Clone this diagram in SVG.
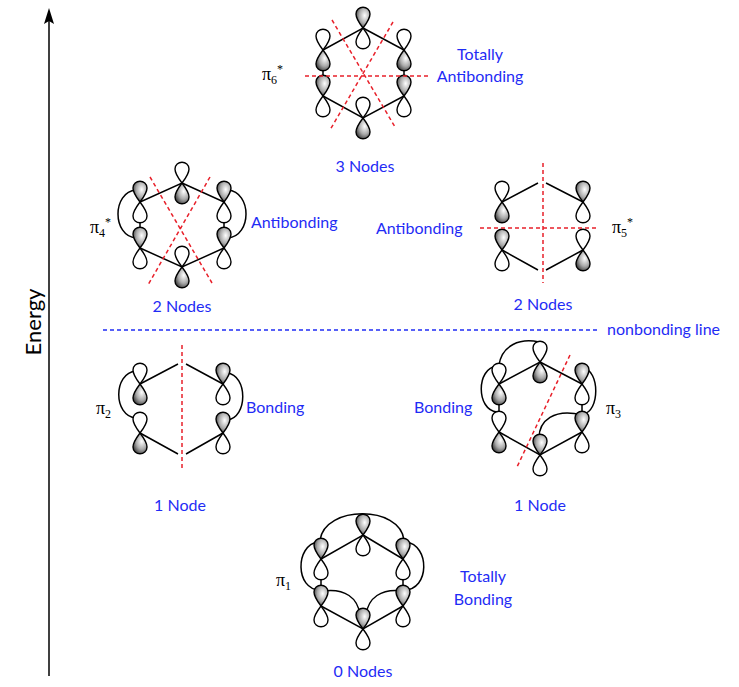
<svg xmlns="http://www.w3.org/2000/svg" xmlns:xlink="http://www.w3.org/1999/xlink" width="739" height="687" viewBox="0 0 739 687">
<style>
.b{stroke:#000;stroke-width:1.5;fill:none}
.n{stroke:#e8202a;stroke-width:1.5;stroke-dasharray:4,3;fill:none}
.lo{stroke:#000;stroke-width:1.4}
.t{font-family:"Lato","Open Sans","Liberation Sans",sans-serif;font-size:16px;fill:#1f2cf5}
.p{font-family:"Liberation Serif",serif;font-size:18px;fill:#000}
.s{font-size:12px}
</style>
<defs>
<radialGradient id="g" cx="0.62" cy="0.4" r="0.7">
<stop offset="0" stop-color="#fff"/><stop offset="0.55" stop-color="#aaa"/><stop offset="1" stop-color="#333"/>
</radialGradient>
<path id="us" class="lo" fill="url(#g)" d="M0,0 C-3,-4 -7,-9 -7,-14 C-7,-23 7,-23 7,-14 C7,-9 3,-4 0,0Z"/>
<path id="uw" class="lo" fill="#fff" d="M0,0 C-3,-4 -7,-9 -7,-14 C-7,-23 7,-23 7,-14 C7,-9 3,-4 0,0Z"/>
<path id="ds" class="lo" fill="url(#g)" d="M0,0 C-3,4 -7,9 -7,14 C-7,23 7,23 7,14 C7,9 3,4 0,0Z"/>
<path id="dw" class="lo" fill="#fff" d="M0,0 C-3,4 -7,9 -7,14 C-7,23 7,23 7,14 C7,9 3,4 0,0Z"/>
<g id="U"><use xlink:href="#us"/><use xlink:href="#dw"/></g>
<g id="D"><use xlink:href="#uw"/><use xlink:href="#ds"/></g>
</defs>
<g id="axis">
<line x1="49" y1="676" x2="49" y2="18" stroke="#000" stroke-width="1.5"/>
<path d="M44,24 L49,8 L54,24 L49,21Z" fill="#000"/>
<text transform="translate(41,322) rotate(-90)" text-anchor="middle" font-family="Lato,'Liberation Sans',sans-serif" font-size="22">Energy</text>
<line x1="103" y1="330" x2="600" y2="330" stroke="#1f2cf5" stroke-width="1.5" stroke-dasharray="4,3"/>
<text class="t" x="607" y="335">nonbonding line</text>
</g>
<g id="connectors">
<path class="b" d="M363,28 L404,50 L404,96 L363,118 L323,96 L323,50Z"/>
<path class="b" d="M182,183 L224,202 L224,248 L182,267 L140,248 L140,202Z"/>
<path class="b" d="M136,190 C112,192 112,236 136,238 M228,190 C252,192 252,236 228,238"/>
<path class="b" d="M502,202 L538,183 M546,183 L583,202 M502,250 L538,270 M546,270 L583,250"/>
<path class="b" d="M140,384 L178,364 M186,364 L223,384 M140,433 L178,454 M186,454 L223,433"/>
<path class="b" d="M136,371 C113,373 113,416 136,418 M227,373 C248,375 248,418 227,420"/>
<path class="b" d="M540,362 L582,384 L582,432 L540,455 L499,432 L499,384Z"/>
<path class="b" d="M539,342 C520,338 502,345 499,365 M497,366 C476,368 476,410 497,412 M583,368 C600,370 600,412 583,414 M582,415 C555,408 538,420 539,440"/>
<path class="b" d="M363,535 L403,559 L403,606 L363,629 L321,606 L321,559Z"/>
<path class="b" d="M320,540 C325,505 400,505 404,540 M318,542 C295,545 295,590 320,590 M406,542 C430,545 430,590 404,590 M323,591 C345,588 358,598 360,615 M403,591 C381,588 368,598 366,615"/>
</g>
<g id="pi6">
<use xlink:href="#U" x="363" y="28"/><use xlink:href="#D" x="323" y="50"/><use xlink:href="#U" x="323" y="96"/>
<use xlink:href="#D" x="363" y="118"/><use xlink:href="#U" x="404" y="96"/><use xlink:href="#D" x="404" y="50"/>
<path class="n" d="M305,76 H430 M332,20 L395,127 M393,22 L330,130"/>
<text class="p" x="262" y="80">π<tspan class="s" dy="4">6</tspan><tspan class="s" dy="-11">*</tspan></text>
<text class="t" x="480" y="60" text-anchor="middle">Totally</text>
<text class="t" x="480" y="82" text-anchor="middle">Antibonding</text>
<text class="t" x="365" y="172" text-anchor="middle">3 Nodes</text>
</g>
<g id="pi4">
<use xlink:href="#D" x="182" y="183"/><use xlink:href="#U" x="140" y="202"/><use xlink:href="#U" x="140" y="248"/>
<use xlink:href="#D" x="182" y="267"/><use xlink:href="#U" x="224" y="248"/><use xlink:href="#U" x="224" y="202"/>
<path class="n" d="M150,177 L212,283 M210,177 L148,285"/>
<text class="p" x="90" y="233">π<tspan class="s" dy="4">4</tspan><tspan class="s" dy="-11">*</tspan></text>
<text class="t" x="251" y="228">Antibonding</text>
<text class="t" x="182" y="312" text-anchor="middle">2 Nodes</text>
</g>
<g id="pi5">
<use xlink:href="#D" x="502" y="202"/><use xlink:href="#U" x="502" y="250"/>
<use xlink:href="#U" x="583" y="202"/><use xlink:href="#D" x="583" y="250"/>
<path class="n" d="M543,163 V283 M480,228 H597"/>
<text class="p" x="612" y="233">π<tspan class="s" dy="4">5</tspan><tspan class="s" dy="-11">*</tspan></text>
<text class="t" x="376" y="234">Antibonding</text>
<text class="t" x="543" y="310" text-anchor="middle">2 Nodes</text>
</g>
<g id="pi2">
<use xlink:href="#D" x="140" y="384"/><use xlink:href="#D" x="140" y="433"/>
<use xlink:href="#U" x="223" y="384"/><use xlink:href="#U" x="223" y="433"/>
<path class="n" d="M182,345 V470"/>
<text class="p" x="96" y="414">π<tspan class="s" dy="4">2</tspan></text>
<text class="t" x="246" y="413">Bonding</text>
<text class="t" x="180" y="511" text-anchor="middle">1 Node</text>
</g>
<g id="pi3">
<use xlink:href="#D" x="540" y="362"/><use xlink:href="#D" x="499" y="384"/><use xlink:href="#D" x="499" y="432"/>
<use xlink:href="#U" x="540" y="455"/><use xlink:href="#U" x="582" y="432"/><use xlink:href="#U" x="582" y="384"/>
<path class="n" d="M570,355 L517,467"/>
<text class="p" x="606" y="414">π<tspan class="s" dy="4">3</tspan></text>
<text class="t" x="414" y="413">Bonding</text>
<text class="t" x="540" y="511" text-anchor="middle">1 Node</text>
</g>
<g id="pi1">
<use xlink:href="#U" x="363" y="535"/><use xlink:href="#U" x="321" y="559"/><use xlink:href="#U" x="321" y="606"/>
<use xlink:href="#U" x="363" y="629"/><use xlink:href="#U" x="403" y="606"/><use xlink:href="#U" x="403" y="559"/>
<text class="p" x="276" y="586">π<tspan class="s" dy="4">1</tspan></text>
<text class="t" x="483" y="582" text-anchor="middle">Totally</text>
<text class="t" x="483" y="605" text-anchor="middle">Bonding</text>
<text class="t" x="363" y="677" text-anchor="middle">0 Nodes</text>
</g>
</svg>
